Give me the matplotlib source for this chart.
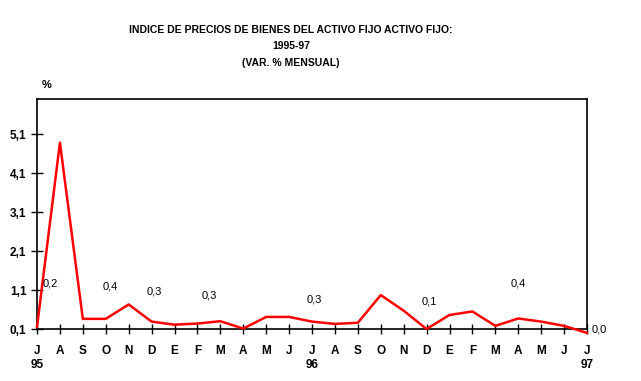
import matplotlib
matplotlib.use("Agg")
import matplotlib.pyplot as plt
import matplotlib.transforms as mtransforms

# monthly variation, Jul 95 .. Jul 97
months = ["J", "A", "S", "O", "N", "D", "E", "F", "M", "A", "M", "J",
          "J", "A", "S", "O", "N", "D", "E", "F", "M", "A", "M", "J", "J"]
years = ["95", "96", "97"]
year_idx = [0, 12, 24]
values = [0.15, 4.88, 0.36, 0.36, 0.73, 0.29, 0.21, 0.24, 0.30, 0.11, 0.41, 0.41,
          0.29, 0.23, 0.26, 0.97, 0.57, 0.10, 0.46, 0.55, 0.18, 0.37, 0.29, 0.18, 0.0]
yticks = [0.1, 1.1, 2.1, 3.1, 4.1, 5.1]
ytick_labels = ["0,1", "1,1", "2,1", "3,1", "4,1", "5,1"]
notes = ["0,2", "0,4", "0,3", "0,3", "0,3", "0,1", "0,4"]
note_x = [0.57, 3.2, 5.1, 7.5, 12.1, 17.1, 21.0]
note_y = [1.26, 1.20, 1.07, 0.95, 0.85, 0.80, 1.26]

plt.rcParams['font.family'] = ['Liberation Sans', 'DejaVu Sans']

fig = plt.figure(figsize=(6.41, 3.81), dpi=100)
ax = fig.add_axes([37 / 641, 1 - 329 / 381, 550 / 641, 230 / 381])

x = list(range(len(values)))
ax.plot(x, values, color="#ff0000", lw=1.8, clip_on=False, zorder=3)

ax.set_xlim(0, 24)
ax.set_ylim(0.1, 6.0)

ax.set_yticks(yticks)
ax.set_yticklabels(ytick_labels, fontsize=8.5, fontweight="bold")
ax.tick_params(axis="y", direction="inout", length=9, width=1, pad=3)

ax.set_xticks(x)
ax.set_xticklabels(months, fontsize=8.5, fontweight="bold")
ax.tick_params(axis="x", direction="inout", length=7, width=1, pad=8)

for s in ax.spines.values():
    s.set_linewidth(1.2)
    s.set_color("black")

trans = mtransforms.blended_transform_factory(ax.transData, ax.transAxes)
for i, yr in zip(year_idx, years):
    ax.text(i, -0.155, yr, transform=trans, ha="center", va="center",
            fontsize=8.5, fontweight="bold")

for t, nx, ny in zip(notes, note_x, note_y):
    ax.text(nx, ny, t, ha="center", va="center", fontsize=8)
ax.text(24.2, 0.1, "0,0", ha="left", va="center", fontsize=8, clip_on=False)

ax.text(47 / 641, 1 - 85 / 381, "%", transform=fig.transFigure,
        ha="center", va="center", fontsize=8, fontweight="bold")

title = ["INDICE DE PRECIOS DE BIENES DEL ACTIVO FIJO ACTIVO FIJO:",
         "1995-97", "(VAR. % MENSUAL)"]
for line, ypix in zip(title, [30, 46, 63]):
    fig.text(291 / 641, 1 - ypix / 381, line, ha="center", va="center",
             fontsize=7.5, fontweight="bold")

fig.savefig("out.png", dpi=100)
